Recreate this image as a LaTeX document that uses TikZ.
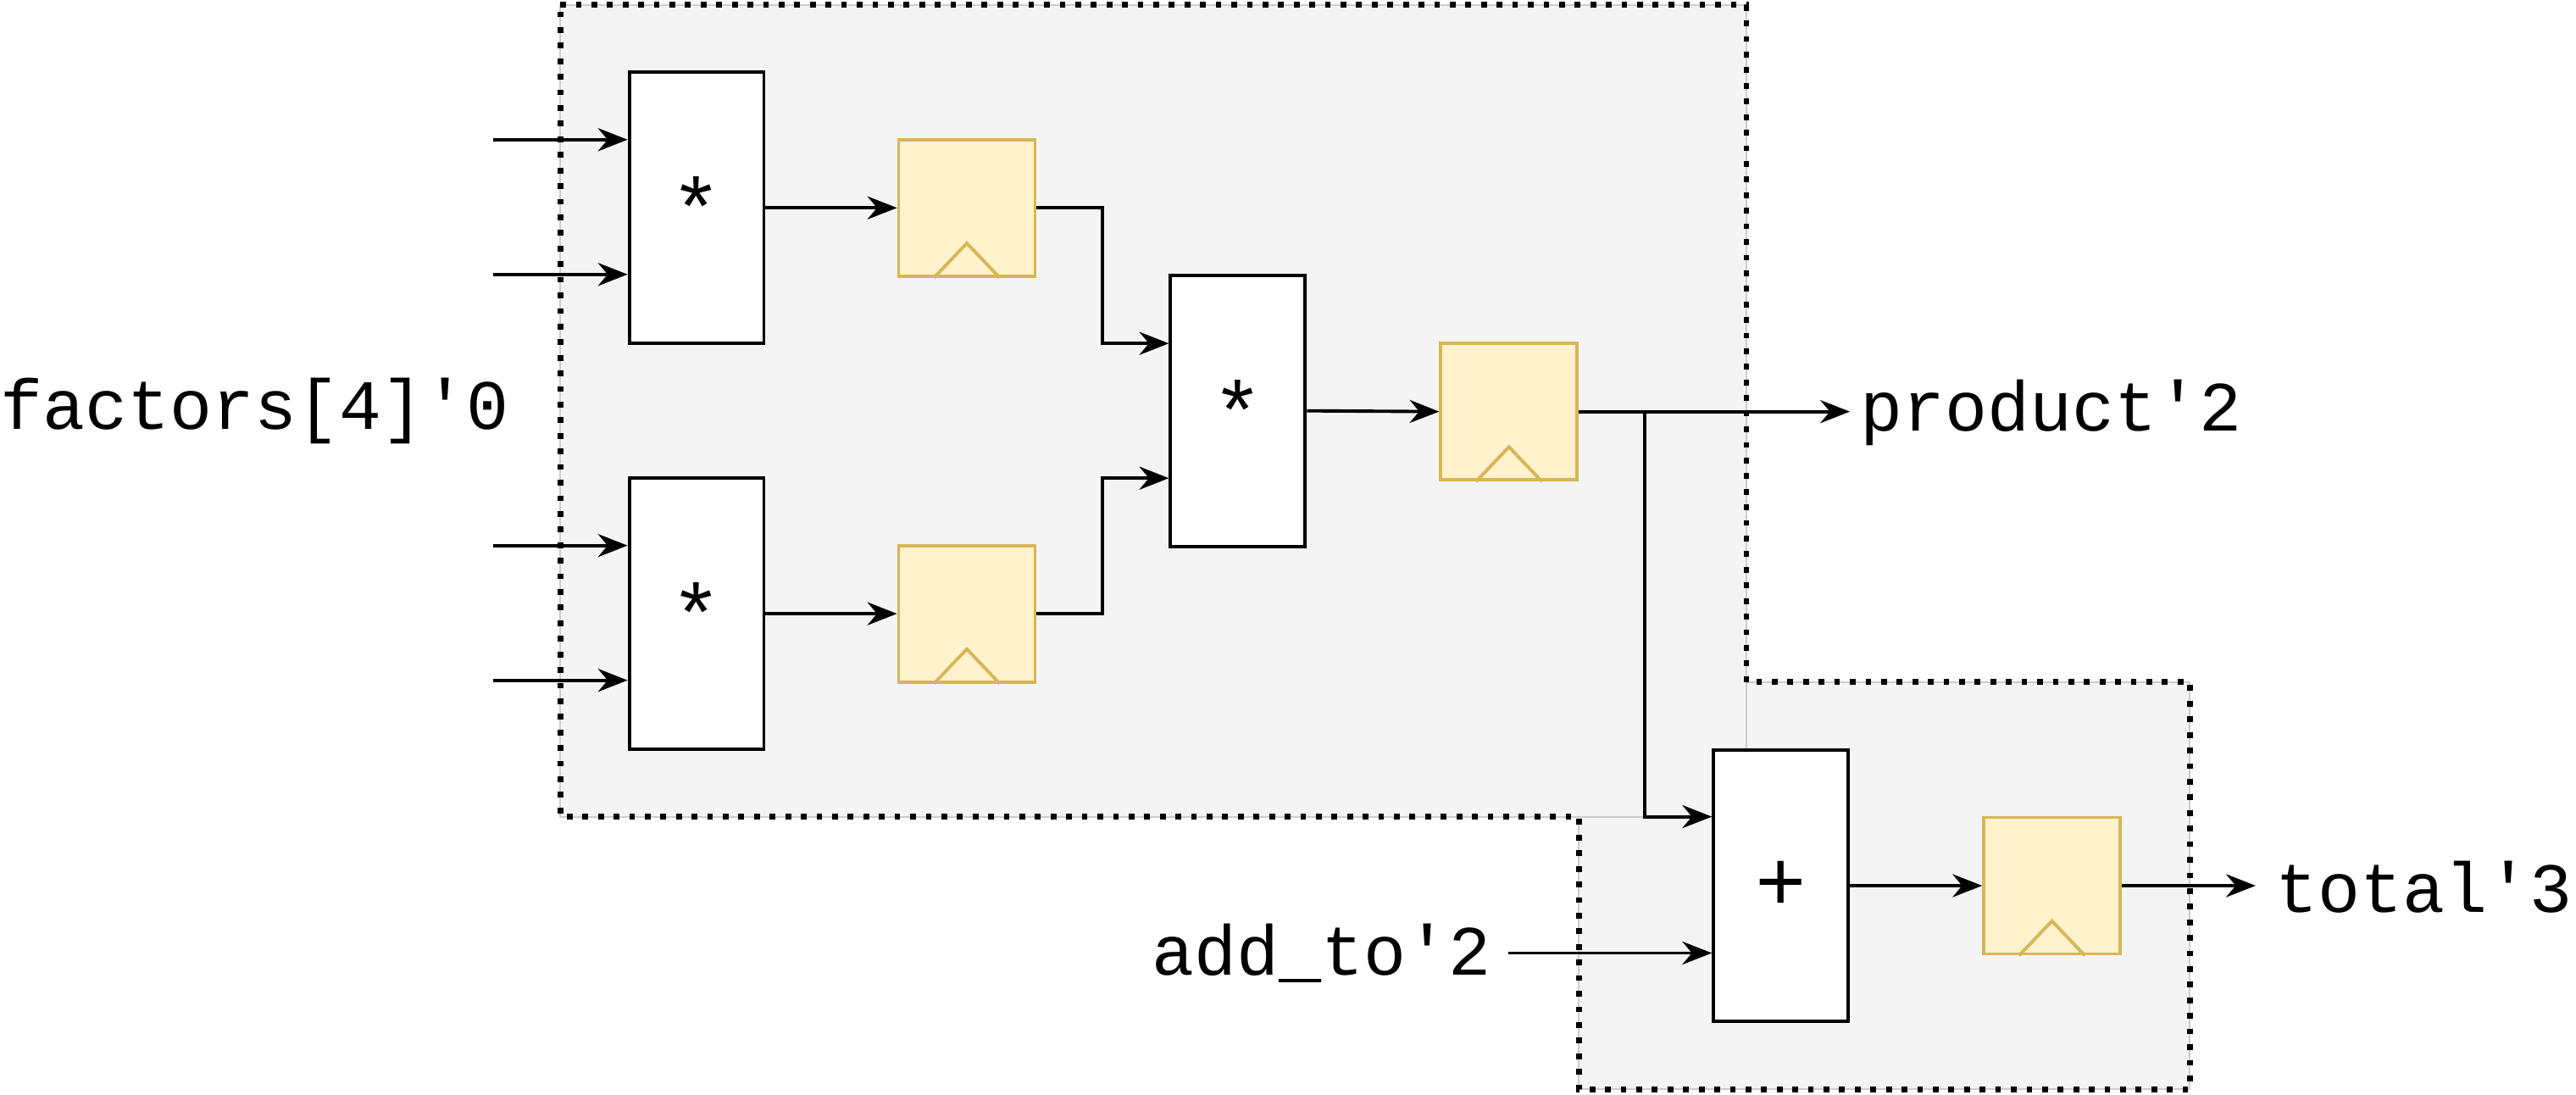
\documentclass[tikz,border=0pt]{standalone}
\usepackage{fontspec}
\setmainfont{Liberation Mono}
\usetikzlibrary{arrows.meta}
\begin{document}
\begin{tikzpicture}[x=1pt,y=-1pt,
  box/.style={draw=black,fill=white,line width=2pt,minimum width=82pt,minimum height=165pt,inner sep=0pt,font=\fontsize{52}{52}\selectfont},
  reg/.style={draw=regc,fill=regf,line width=2pt,minimum width=83pt,minimum height=83pt,inner sep=0pt},
  w/.style={line width=2pt},
  a/.style={w,-{Stealth[length=18pt,width=14pt]}},
  lbl/.style={font=\fontsize{43}{43}\selectfont,inner sep=0pt}]
\definecolor{regc}{HTML}{D6B656}\definecolor{regf}{HTML}{FFF2CC}\definecolor{grp}{HTML}{F4F4F4}
\useasboundingbox (0,0) rectangle (1568,666);
\fill[grp,draw=gray!40,line width=1pt] (961,415) rectangle (1333,663);
\fill[grp,draw=gray!40,line width=1pt] (341,3) rectangle (1063,497);
\draw[line width=3.5pt,dash pattern=on 3.5pt off 6pt] (341,3) -- (1063,3) -- (1063,415) -- (1333,415) -- (1333,663) -- (961,663) -- (961,497) -- (341,497) -- cycle;
\node[box] (m1) at (424,126.5) {*};
\node[box] (m2) at (424,373.5) {*};
\node[box] (m3) at (753.5,250) {*};
\node[box] (ad) at (1084,539) {+};
\foreach \n/\x/\y in {r1/588.5/126.5,r2/588.5/373.5,r3/918.5/250.5,r4/1249/539}{
  \node[reg] (\n) at (\x,\y) {};
  \draw[regc,line width=2pt] ([xshift=-20pt]\n.south) -- ([yshift=21pt]\n.south) -- ([xshift=20pt]\n.south);}
\coordinate (i1) at (300,85);\coordinate (i2) at (300,167);
\coordinate (i3) at (300,332);\coordinate (i4) at (300,414);
\draw[a] (i1) -- (m1.west |- i1);
\draw[a] (i2) -- (m1.west |- i2);
\draw[a] (i3) -- (m2.west |- i3);
\draw[a] (i4) -- (m2.west |- i4);
\node[lbl,anchor=center] (f) at (155,250) {factors[4]\textquotesingle0};
\draw[a] (m1.east) -- (r1.west);
\draw[a] (m2.east) -- (r2.west);
\draw[a] (r1.east) -- (671,126.5) -- (671,209) -- (m3.west |- 0,209);
\draw[a] (r2.east) -- (671,373.5) -- (671,291) -- (m3.west |- 0,291);
\draw[a] (m3.east) -- (r3.west);
\node[lbl,anchor=west] (p) at (1132,251) {product\textquotesingle2};
\coordinate (pe) at (1126,250.5);
\draw[a] (r3.east) -- (pe);
\draw[a] (1001,250.5) -- (1001,497) -- (ad.west |- 0,497);
\node[lbl,anchor=east] (at) at (908,580) {add\_to\textquotesingle2};
\draw[a] (918,580) -- (ad.west |- 0,580);
\draw[a] (ad.east) -- (r4.west);
\node[lbl,anchor=west] (t) at (1385,540) {total\textquotesingle3};
\coordinate (te) at (1373,539);
\draw[a] (r4.east) -- (te);
\end{tikzpicture}
\end{document}
